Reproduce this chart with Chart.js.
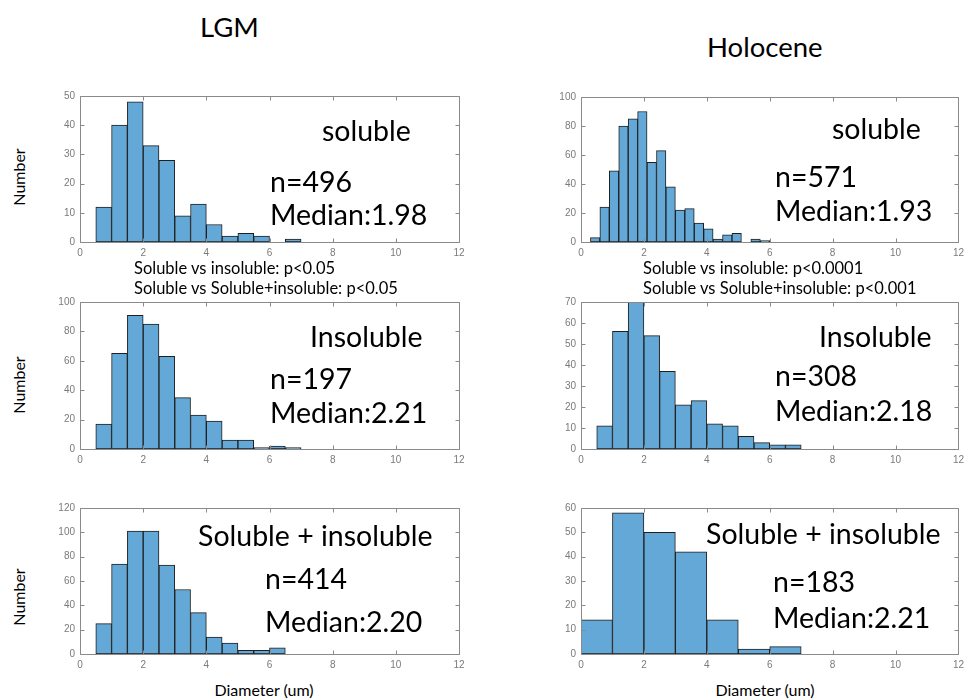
<!DOCTYPE html>
<html>
<head>
<meta charset="utf-8">
<script src="https://cdn.jsdelivr.net/npm/chart.js@4.4.1/dist/chart.umd.min.js"></script>
<style>
  html, body { margin:0; padding:0; background:#fff; overflow:hidden; }
  #wrap { position:relative; width:969px; height:700px; }
  canvas { position:absolute; }
  .t { position:absolute; font-family:Lato, "Open Sans", sans-serif; color:#000; white-space:nowrap; line-height:1; }
  .big { font-size:28.5px; }
  .title { font-size:27.5px; }
  .small { font-size:16.5px; }
  .lab { font-size:16px; }
  .rot { transform-origin:center center; transform:translate(-50%,-50%) rotate(-90deg); }
</style>
</head>
<body>
<div id="wrap"></div>
<script>
// ---------- DATA ----------
// LGM soluble (bin width 0.5)
const lgmSolCenters = [0.75,1.25,1.75,2.25,2.75,3.25,3.75,4.25,4.75,5.25,5.75,6.25,6.75];
const lgmSolCounts  = [12,40,48,33,28,9,13,6,2,3,2,0,1];
// Holocene soluble (bin width 0.3)
const holSolCenters = [0.45,0.75,1.05,1.35,1.65,1.95,2.25,2.55,2.85,3.15,3.45,3.75,4.05,4.35,4.65,4.95,5.25,5.55,5.85];
const holSolCounts  = [3,24,49,80,85,90,55,63,38,22,23,13,9,2,5,6,0,2,1];
// LGM insoluble (bin width 0.5)
const lgmInsCenters = [0.75,1.25,1.75,2.25,2.75,3.25,3.75,4.25,4.75,5.25,5.75,6.25,6.75];
const lgmInsCounts  = [17,65,91,85,63,35,23,19,6,6,1,2,1];
// Holocene insoluble (bin width 0.5)
const holInsCenters = [0.75,1.25,1.75,2.25,2.75,3.25,3.75,4.25,4.75,5.25,5.75,6.25,6.75];
const holInsCounts  = [11,56,70,54,37,21,23,12,11,6,3,2,2];
// LGM soluble + insoluble (bin width 0.5)
const lgmMixCenters = [0.75,1.25,1.75,2.25,2.75,3.25,3.75,4.25,4.75,5.25,5.75,6.25];
const lgmMixCounts  = [25,74,101,101,73,53,34,14,9,3,3,5];
// Holocene soluble + insoluble (bin width 1)
const holMixCenters = [0.5,1.5,2.5,3.5,4.5,5.5,6.5];
const holMixCounts  = [14,58,50,42,14,2,3];

const xTicks = [0,2,4,6,8,10,12];
const yMaxes = { lgmSol:50, holSol:100, lgmIns:100, holIns:70, lgmMix:120, holMix:60 };
const ySteps = { lgmSol:10, holSol:20, lgmIns:20, holIns:10, lgmMix:20, holMix:10 };

const columnTitles = ['LGM','Holocene'];
const panelLabels = ['soluble','soluble','Insoluble','Insoluble','Soluble + insoluble','Soluble + insoluble'];
const panelN = ['n=496','n=571','n=197','n=308','n=414','n=183'];
const panelMedian = ['Median:1.98','Median:1.93','Median:2.21','Median:2.18','Median:2.20','Median:2.21'];
const pTextsLGM = ['Soluble vs insoluble: p<0.05','Soluble vs Soluble+insoluble: p<0.05'];
const pTextsHol = ['Soluble vs insoluble: p<0.0001','Soluble vs Soluble+insoluble: p<0.001'];
const yLabel = 'Number';
const xLabel = 'Diameter (um)';

// ---------- LAYOUT ----------
const wrap = document.getElementById('wrap');

const frameTicks = {
  id:'frameTicks',
  afterDraw(chart){
    const {ctx, chartArea:a, scales:{x,y}} = chart;
    ctx.save();
    ctx.strokeStyle = '#8a8a8a';
    ctx.lineWidth = 1;
    ctx.beginPath();
    const L = Math.round(a.left)+0.5, R = Math.round(a.right)+0.5, T = Math.round(a.top)+0.5, B = Math.round(a.bottom)+0.5;
    ctx.rect(L, T, R-L, B-T);
    x.ticks.forEach(t=>{
      const px = Math.round(x.getPixelForValue(t.value))+0.5;
      ctx.moveTo(px,B); ctx.lineTo(px,B-4);
      ctx.moveTo(px,T); ctx.lineTo(px,T+4);
    });
    y.ticks.forEach(t=>{
      const py = Math.round(y.getPixelForValue(t.value))+0.5;
      ctx.moveTo(L,py); ctx.lineTo(L+4,py);
      ctx.moveTo(R,py); ctx.lineTo(R-4,py);
    });
    ctx.stroke();
    ctx.restore();
  }
};

function makeChart(left, top, width, height, padRight, centers, counts, ymax, ystep){
  const c = document.createElement('canvas');
  c.width = width; c.height = height;
  c.style.left = left+'px'; c.style.top = top+'px';
  c.style.width = width+'px'; c.style.height = height+'px';
  wrap.appendChild(c);
  new Chart(c, {
    type:'bar',
    data:{ datasets:[{
      data: centers.map((cx,i)=>({x:cx, y:counts[i]})),
      backgroundColor:'rgb(99,168,214)',
      borderColor:'#1f1f1f',
      borderWidth:1,
      borderSkipped:false,
      barPercentage:1,
      categoryPercentage:1
    }]},
    options:{
      responsive:false,
      animation:false,
      events:[],
      layout:{ padding:{ top:10, right:padRight, bottom:0, left:0 } },
      plugins:{ legend:{display:false}, tooltip:{enabled:false} },
      scales:{
        x:{
          type:'linear', offset:false, min:0, max:12,
          afterBuildTicks(s){ s.ticks = xTicks.map(v=>({value:v})); },
          afterFit(s){ s.height = 18; },
          grid:{ display:false, drawTicks:false },
          border:{ display:false },
          ticks:{ padding:5, color:'#7a7a7a', font:{ family:'Liberation Sans', size:10 }, maxRotation:0 }
        },
        y:{
          min:0, max:ymax,
          ticks:{ stepSize:ystep, padding:5, color:'#7a7a7a', font:{ family:'Liberation Sans', size:10 } },
          afterFit(s){ s.width = 40; },
          grid:{ display:false, drawTicks:false },
          border:{ display:false }
        }
      }
    },
    plugins:[frameTicks]
  });
}

makeChart(40, 85, 440, 175, 21, lgmSolCenters, lgmSolCounts, yMaxes.lgmSol, ySteps.lgmSol);
makeChart(541, 86, 428, 174, 9, holSolCenters, holSolCounts, yMaxes.holSol, ySteps.holSol);
makeChart(40, 291, 440, 176, 21, lgmInsCenters, lgmInsCounts, yMaxes.lgmIns, ySteps.lgmIns);
makeChart(541, 291, 428, 176, 9, holInsCenters, holInsCounts, yMaxes.holIns, ySteps.holIns);
makeChart(40, 497, 440, 175, 21, lgmMixCenters, lgmMixCounts, yMaxes.lgmMix, ySteps.lgmMix);
makeChart(541, 497, 428, 175, 9, holMixCenters, holMixCounts, yMaxes.holMix, ySteps.holMix);

// ---------- TEXT ----------
function addText(txt, cls, left, cy){
  const d = document.createElement('div');
  d.className = 't '+cls;
  d.textContent = txt;
  d.style.left = left+'px';
  d.style.top = cy+'px';
  d.style.transform = 'translateY(-50%)';
  wrap.appendChild(d);
  return d;
}
addText(columnTitles[0], 'title', 200, 27);
addText(columnTitles[1], 'title', 707, 47);

const labelPos = [[322,130],[832,128],[310,336],[819,336],[198,535],[706,533]];
const nPos     = [[270,181],[775,176],[270,378],[775,375],[265,578],[773,581]];
const medPos   = [[270,214],[775,210],[270,412],[775,410],[265,621],[773,617]];
for(let i=0;i<6;i++){
  addText(panelLabels[i], 'big', labelPos[i][0], labelPos[i][1]);
  addText(panelN[i], 'big', nPos[i][0], nPos[i][1]);
  addText(panelMedian[i], 'big', medPos[i][0], medPos[i][1]);
}
addText(pTextsLGM[0], 'small', 134, 268);
addText(pTextsLGM[1], 'small', 134, 288);
addText(pTextsHol[0], 'small', 643, 268);
addText(pTextsHol[1], 'small', 643, 288);

[177, 385, 597].forEach(cy=>{
  const d = document.createElement('div');
  d.className = 't lab rot';
  d.textContent = yLabel;
  d.style.left = '19px';
  d.style.top = cy+'px';
  wrap.appendChild(d);
});
[[264,690],[765,690]].forEach(p=>{
  const d = document.createElement('div');
  d.className = 't lab';
  d.textContent = xLabel;
  d.style.left = p[0]+'px';
  d.style.top = p[1]+'px';
  d.style.transform = 'translate(-50%,-50%)';
  wrap.appendChild(d);
});
</script>
</body>
</html>
